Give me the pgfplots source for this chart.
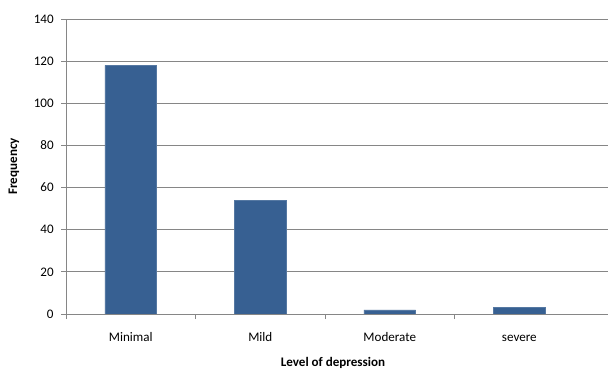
\documentclass[border=0pt]{standalone}
\usepackage{pgfplots}
\pgfplotsset{compat=1.18}
\usepackage{fontspec}
\setmainfont{Carlito}
\definecolor{barblue}{RGB}{55,96,146}
\definecolor{gridgray}{RGB}{134,134,134}
\begin{document}
\begin{tikzpicture}
\path[use as bounding box] (-49.5pt,-42pt) rectangle (407.25pt,235.5pt);
\begin{axis}[
  at={(0,0)}, anchor=south west,
  scale only axis, width=406.5pt, height=221.25pt,
  xmin=-0.5, xmax=3.685, ymin=0, ymax=140,
  ytick={0,20,...,140},
  xtick={0,1,2,3},
  xticklabels={Minimal,Mild,Moderate,severe},
  minor xtick={-0.5,0.5,1.5,2.5},
  major x tick style={draw=none},
  minor x tick style={gridgray, line width=0.6pt},
  y tick style={gridgray, line width=0.6pt},
  tick align=outside,
  major tick length=3.75pt, minor tick length=3.75pt,
  axis lines*=left,
  axis line style={gridgray, line width=0.6pt},
  ymajorgrids, grid style={gridgray, line width=0.6pt},
  /pgf/number format/assume math mode=true,
  tick label style={font=\fontsize{9.8}{11}\selectfont, black},
  xticklabel style={yshift=-6pt, text height=1.6ex, text depth=0.3ex},
  yticklabel style={xshift=-2pt},
  xlabel={Level of depression},
  ylabel={Frequency},
  every axis x label/.style={at={(axis description cs:0.4926,0)}, yshift=-36.75pt, anchor=center, font=\fontsize{9.8}{11}\selectfont\bfseries},
  every axis y label/.style={at={(axis description cs:0,0.5)}, xshift=-39pt, rotate=90, anchor=center, font=\fontsize{9.8}{11}\selectfont\bfseries},
  ybar, bar width=0.4,
]
\addplot[fill=barblue, draw=barblue!85!white, line width=0.4pt] coordinates {(0,118) (1,54) (2,2) (3,3)};
\end{axis}
\end{tikzpicture}
\end{document}
